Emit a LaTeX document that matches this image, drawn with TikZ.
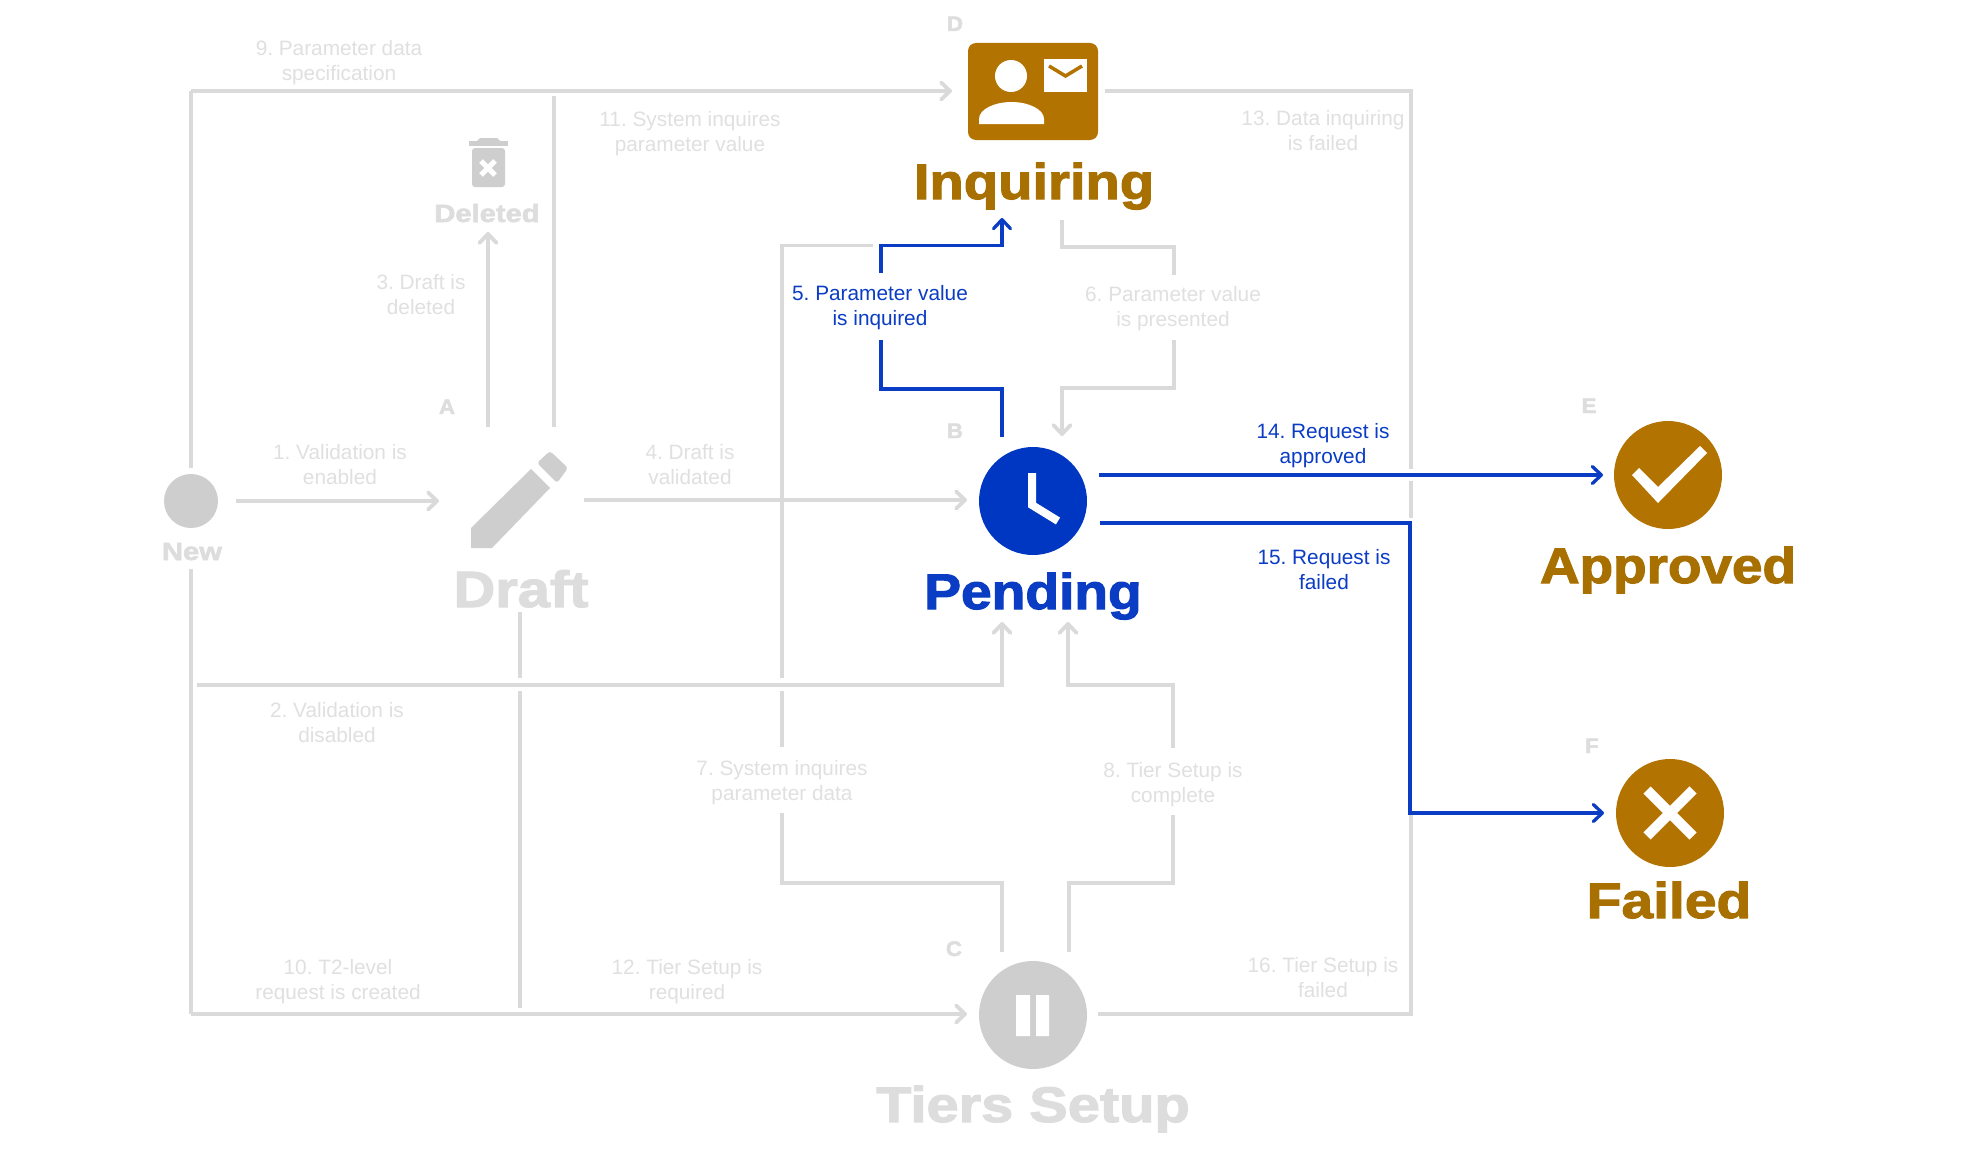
\documentclass[tikz,border=0pt]{standalone}
\usepackage{fontspec}
\usepackage{graphicx}
\setmainfont{Liberation Sans}
\newfontfamily\blk[FakeBold=2.2,FakeStretch=1.06]{Liberation Sans Bold}
\newcommand\sx[2]{\scalebox{#1}[1]{#2}}
\usetikzlibrary{arrows.meta}
\definecolor{gline}{HTML}{DADADA}
\definecolor{gtext}{HTML}{E0E0E0}
\definecolor{gtitle}{HTML}{DDDDDD}
\definecolor{gicon}{HTML}{CECECE}
\definecolor{bline}{HTML}{0A3CC4}
\definecolor{bicon}{HTML}{0037C2}
\definecolor{bicon2}{HTML}{0A3CC4}
\definecolor{brn}{HTML}{B37300}
\definecolor{brntext}{HTML}{A87000}
\tikzset{
  gl/.style={draw=gline,line width=3.8pt},
  bl/.style={draw=bline,line width=3.3pt},
  tip/.style={-{Straight Barb[length=9pt,width=17pt,round]}},
  lbl/.style={font=\frenchspacing\fontsize{20.8}{25}\selectfont,align=center,text=gtext,inner sep=0pt},
  blbl/.style={lbl,text=bline},
  ttl/.style={font=\blk\fontsize{#1}{#1}\selectfont,anchor=base,inner sep=0pt},
  ltr/.style={font=\blk\fontsize{21}{21}\selectfont,anchor=base,inner sep=0pt,text=gtitle},
  disc/.style={circle,minimum size=108pt,inner sep=0pt,fill=#1},
}
\begin{document}
\begin{tikzpicture}[x=1pt,y=-1pt,line join=miter]
\useasboundingbox (0,0) rectangle (1963,1172);
\fill[white] (0,0) rectangle (1963,1172);
% state icons
\node[circle,minimum size=54pt,inner sep=0pt,fill=gicon] (new) at (191,501) {};
\node[disc=bicon] (pending) at (1033,501) {};
\node[disc=gicon] (tiers) at (1033,1015) {};
\node[disc=brn] (approved) at (1668,475) {};
\node[disc=brn] (failed) at (1670,813) {};
\node[fill=brn,rounded corners=8pt,minimum width=130pt,minimum height=97pt,inner sep=0pt] (inq) at (1033,91.5) {};
% clock
\draw[white,line width=8pt] (1032,473) -- (1032,505) -- (1058,521);
% pause
\fill[white] (1016,995) rectangle (1030,1036) (1036,995) rectangle (1049,1036);
% check, cross
\fill[white] (1632,475) -- (1639,468) -- (1658,487) -- (1700,446) -- (1707,453) -- (1658,503) -- cycle;
\draw[white,line width=10pt] (1647,790) -- (1693,836) (1693,790) -- (1647,836);
% inquiring icon
\fill[white] (1011,76) circle (16);
\fill[white] (979,124) -- (979,119) .. controls (979,109) and (995,102) .. (1011.5,102) .. controls (1028,102) and (1044,109) .. (1044,119) -- (1044,124) -- cycle;
\fill[white] (1044,59) rectangle (1087,92);
\draw[brn,line width=3.5pt] (1049,66) -- (1065.5,76) -- (1082,66);
% pencil
\fill[gicon] (471,528) -- (531,469) -- (550,488) -- (492,548) -- (471,548) -- cycle;
\fill[gicon,rounded corners=3pt] (537,463) -- (550,451) -- (568,468) -- (557,483) -- cycle;
% trash
\fill[gicon] (469,141) rectangle (508,146);
\fill[gicon] (480,138) -- (497,138) -- (500,141) -- (477,141) -- cycle;
\fill[gicon,rounded corners=3pt] (472,148) -- (505,148) -- (505,187) -- (472,187) -- cycle;
\draw[white,line width=5pt] (481,161) -- (495,175) (495,161) -- (481,175);
% titles
\node[ttl=25,text=gtitle] (tnew) at (192,560) {\sx{1.1}{New}};
\node[ttl=25,text=gtitle] (tdel) at (487,222) {\sx{1.1}{Deleted}};
\node[ttl=51,text=gtitle] (tdraft) at (521,607) {\sx{1.07}{Draft}};
\node[ttl=50,text=bicon2] (tpend) at (1033,609) {\sx{1.04}{Pending}};
\node[ttl=50,text=brntext] (tinq) at (1034,199) {\sx{1.06}{Inquiring}};
\node[ttl=50,text=gtitle] (ttiers) at (1033,1122) {\sx{1.09}{Tiers Setup}};
\node[ttl=50,text=brntext] (tapp) at (1668,583) {\sx{1.035}{Approved}};
\node[ttl=50,text=brntext] (tfail) at (1669,918) {\sx{1.075}{Failed}};
% letters
\node[ltr] (la) at (447,414) {A};
\node[ltr] (lb) at (955,438) {B};
\node[ltr] (lc) at (954,956) {C};
\node[ltr] (ld) at (955,31) {D};
\node[ltr] (le) at (1589,413) {E};
\node[ltr] (lf) at (1592,753) {F};
% labels
\node[lbl] (e1) at (340,465) {1. Validation is\\enabled};
\node[lbl] (e2) at (337,723) {2. Validation is\\disabled};
\node[lbl] (e3) at (421,295) {3. Draft is\\deleted};
\node[lbl] (e4) at (690,465) {4. Draft is\\validated};
\node[blbl] (e5) at (880,307.5) {5. Parameter value\\is inquired};
\node[lbl] (e6) at (1173,308.5) {6. Parameter value\\is presented};
\node[lbl] (e7) at (782,782.5) {7. System inquires\\parameter data};
\node[lbl] (e8) at (1173,784.5) {8. Tier Setup is\\complete};
\node[lbl] (e9) at (339,62.5) {9. Parameter data\\specification};
\node[lbl] (e10) at (338,981.5) {10. T2-level\\request is created};
\node[lbl] (e11) at (690,133.5) {11. System inquires\\parameter value};
\node[lbl] (e12) at (687,981.5) {12. Tier Setup is\\required};
\node[lbl] (e13) at (1323,130.5) {13. Data inquiring\\is failed};
\node[blbl] (e14) at (1323,446) {14. Request is\\approved};
\node[blbl] (e15) at (1324,569.5) {15. Request is\\failed};
\node[lbl] (e16) at (1323,978) {16. Tier Setup is\\failed};
% connector ends
\coordinate (nTop) at (191,468);
\coordinate (nBot) at (191,569);
\coordinate (nR) at (236,501);
\coordinate (dIn) at (439,501);
\coordinate (dOut) at (584,500);
\coordinate (pIn) at (967,500);
\coordinate (dT1) at (488,427);
\coordinate (delIn) at (488,232);
\coordinate (dT2) at (554,427);
\coordinate (dTop) at (554,96);
\coordinate (dB) at (520,612);
\coordinate (dG1) at (520,678);
\coordinate (dG2) at (520,691);
\coordinate (dEnd) at (520,1008);
\coordinate (v2Start) at (197,685);
\coordinate (pB1) at (1002,622);
\coordinate (pB2) at (1068,622);
\coordinate (inqIn) at (952,91);
\coordinate (inqOut) at (1105,91);
\coordinate (tIn) at (967,1014);
\coordinate (tOut) at (1098,1014);
\coordinate (cTL) at (191,91);
\coordinate (cBL) at (191,1014);
\coordinate (cTR) at (1411,91);
\coordinate (cBR) at (1411,1014);
\coordinate (rG1) at (1411,469);
\coordinate (rG2) at (1411,481);
\coordinate (rEnd) at (1411,518);
\coordinate (rLow) at (1411,813);
\coordinate (t7) at (1002,952);
\coordinate (t8) at (1069,952);
\coordinate (m7a) at (782,883);
\coordinate (m7b) at (782,813);
\coordinate (m7c) at (782,747);
\coordinate (m7d) at (782,691);
\coordinate (m7e) at (782,678);
\coordinate (m7f) at (782,245.5);
\coordinate (gEnd) at (873,245.5);
\coordinate (b5h) at (881,245.5);
\coordinate (m8a) at (1173,883);
\coordinate (m8b) at (1173,815);
\coordinate (m8c) at (1173,748);
\coordinate (m8d) at (1173,685);
\coordinate (i6) at (1062,220);
\coordinate (m6a) at (1174,247);
\coordinate (m6b) at (1174,275);
\coordinate (m6c) at (1174,340);
\coordinate (m6d) at (1062,388);
\coordinate (p6) at (1062,436);
\coordinate (p5) at (1002,437);
\coordinate (m5a) at (881,389);
\coordinate (m5b) at (881,340);
\coordinate (m5c) at (881,273);
\coordinate (i5) at (1002,218);
\coordinate (p14) at (1099,475);
\coordinate (a14) at (1603,475);
\coordinate (p15) at (1100,523);
\coordinate (k15) at (1410,523);
\coordinate (a15) at (1604,813);
% gray connectors
\draw[gl,tip] (nR) -- (dIn);
\draw[gl,tip] (dOut) -- (pIn);
\draw[gl] (nTop) -- (cTL);
\draw[gl,tip] (cTL) -- (inqIn);
\draw[gl] (nBot) -- (cBL);
\draw[gl,tip] (cBL) -- (tIn);
\draw[gl,tip] (dT1) -- (delIn);
\draw[gl] (dT2) -- (dTop);
\draw[gl] (dB) -- (dG1);
\draw[gl] (dG2) -- (dEnd);
\draw[gl,tip] (v2Start) -| (pB1);
\draw[gl] (t7) |- (m7a) -- (m7b);
\draw[gl] (m7c) -- (m7d);
\draw[gl] (m7e) -- (m7f) -- (gEnd);
\draw[gl] (t8) |- (m8a) -- (m8b);
\draw[gl,tip] (m8c) -- (m8d) -| (pB2);
\draw[gl] (i6) |- (m6a) -- (m6b);
\draw[gl,tip] (m6c) |- (m6d) -- (p6);
\draw[gl] (inqOut) -- (cTR) -- (rG1);
\draw[gl] (rG2) -- (rEnd);
\draw[gl] (tOut) -- (cBR) -- (rLow);
% blue connectors
\draw[bl] (p5) |- (m5a) -- (m5b);
\draw[bl,tip] (m5c) |- (b5h) -| (i5);
\draw[bl,tip] (p14) -- (a14);
\draw[bl,tip] (p15) -- (k15) |- (a15);
\end{tikzpicture}
\end{document}
